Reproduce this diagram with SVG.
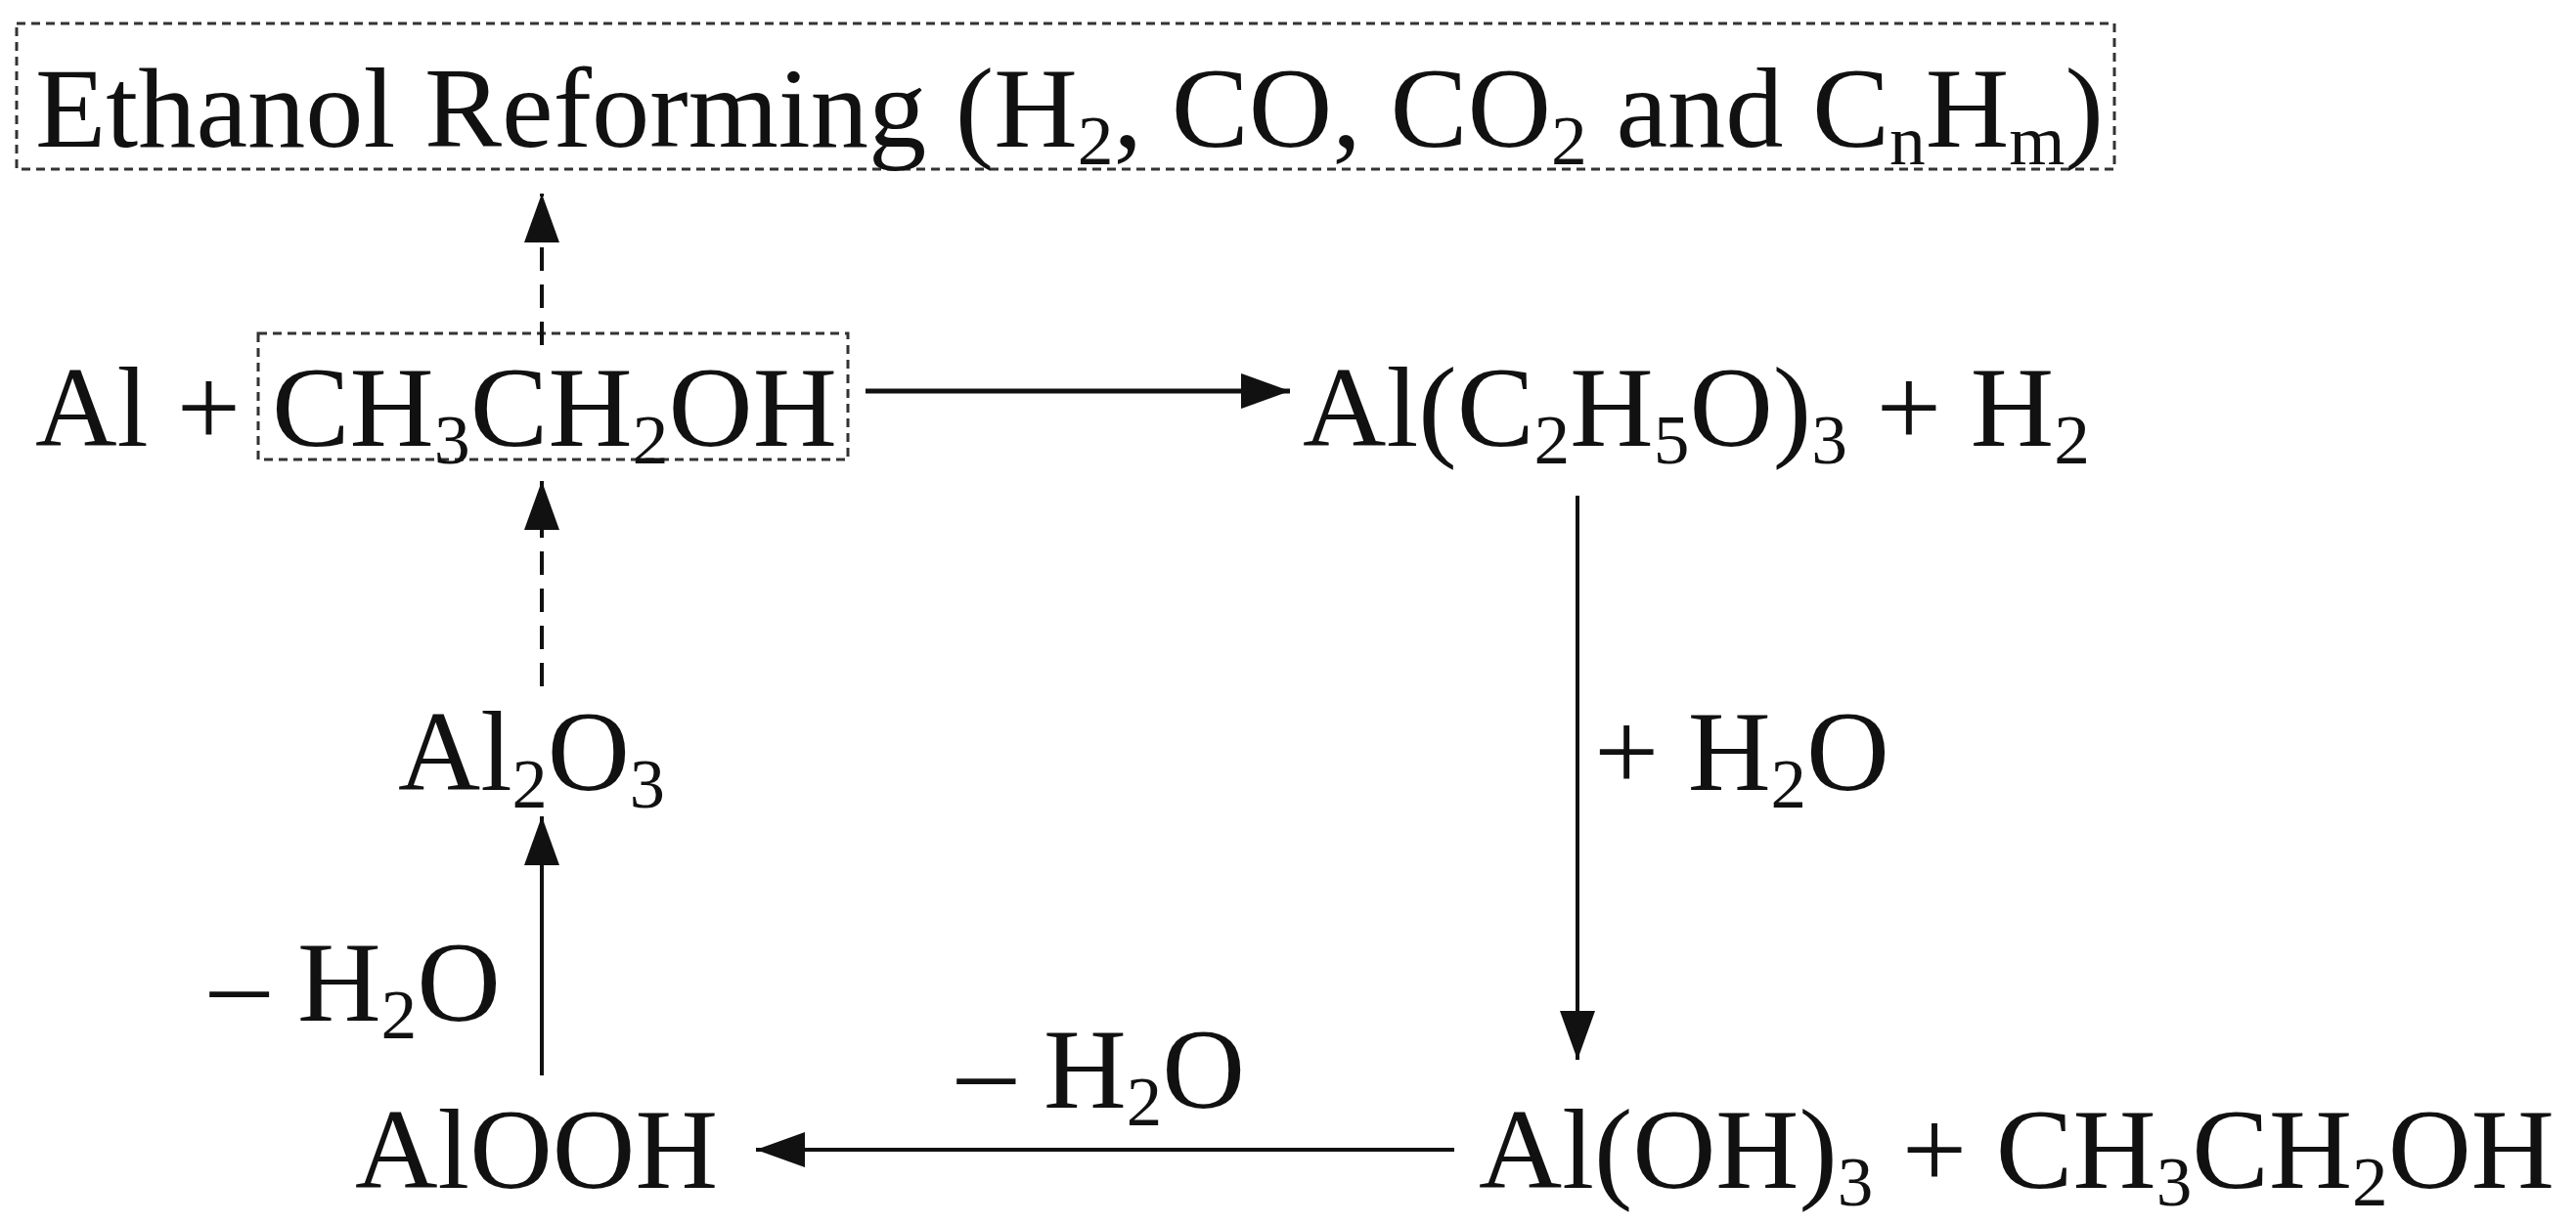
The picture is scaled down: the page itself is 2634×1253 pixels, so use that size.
<svg xmlns="http://www.w3.org/2000/svg" width="2634" height="1253" viewBox="0 0 2634 1253">
<style>
text{font-family:"Liberation Serif","Times New Roman",serif;font-size:116px;fill:#111}
.s{font-size:72px}
.box{fill:none;stroke:#333;stroke-width:3;stroke-dasharray:9 6}
.ln{stroke:#111;stroke-width:4;fill:none}
.d{stroke-dasharray:24 14}
</style>
<defs>
<marker id="a" viewBox="0 0 50 36" refX="50" refY="18" markerWidth="50" markerHeight="36" markerUnits="userSpaceOnUse" orient="auto">
<path d="M0,0 L50,18 L0,36 Z" fill="#111"/>
</marker>
</defs>
<g id="title">
<rect class="box" x="17" y="24" width="2145" height="149"/>
<text x="36" y="150" textLength="2115" lengthAdjust="spacingAndGlyphs">Ethanol Reforming (H<tspan class="s" dy="18">2</tspan><tspan dy="-18">, CO, CO</tspan><tspan class="s" dy="18">2</tspan><tspan dy="-18"> and C</tspan><tspan class="s" dy="18">n</tspan><tspan dy="-18">H</tspan><tspan class="s" dy="18">m</tspan><tspan dy="-18">)</tspan></text>
</g>
<g id="reactants">
<rect class="box" x="264" y="341" width="603" height="129"/>
<text x="36" y="456" textLength="210" lengthAdjust="spacingAndGlyphs">Al +</text>
<text x="278" y="456" textLength="578" lengthAdjust="spacingAndGlyphs">CH<tspan class="s" dy="18">3</tspan><tspan dy="-18">CH</tspan><tspan class="s" dy="18">2</tspan><tspan dy="-18">OH</tspan></text>
</g>
<g id="alkoxide">
<text x="1332" y="456" textLength="805" lengthAdjust="spacingAndGlyphs">Al(C<tspan class="s" dy="18">2</tspan><tspan dy="-18">H</tspan><tspan class="s" dy="18">5</tspan><tspan dy="-18">O)</tspan><tspan class="s" dy="18">3</tspan><tspan dy="-18"> + H</tspan><tspan class="s" dy="18">2</tspan></text>
</g>
<g id="alumina">
<text x="407" y="808" textLength="273" lengthAdjust="spacingAndGlyphs">Al<tspan class="s" dy="18">2</tspan><tspan dy="-18">O</tspan><tspan class="s" dy="18">3</tspan></text>
</g>
<g id="boehmite">
<text x="363" y="1215" textLength="371" lengthAdjust="spacingAndGlyphs">AlOOH</text>
</g>
<g id="hydroxide">
<text x="1512" y="1215" textLength="1100" lengthAdjust="spacingAndGlyphs">Al(OH)<tspan class="s" dy="18">3</tspan><tspan dy="-18"> + CH</tspan><tspan class="s" dy="18">3</tspan><tspan dy="-18">CH</tspan><tspan class="s" dy="18">2</tspan><tspan dy="-18">OH</tspan></text>
</g>
<g id="connectors">
<line class="ln d" x1="554" y1="353" x2="554" y2="198" marker-end="url(#a)"/>
<line class="ln d" x1="554" y1="702" x2="554" y2="492" marker-end="url(#a)"/>
<line class="ln" x1="554" y1="1100" x2="554" y2="835" marker-end="url(#a)"/>
<line class="ln" style="stroke-width:5" x1="885" y1="400" x2="1319" y2="400" marker-end="url(#a)"/>
<line class="ln" x1="1613" y1="507" x2="1613" y2="1084" marker-end="url(#a)"/>
<line class="ln" x1="1487" y1="1176" x2="773" y2="1176" marker-end="url(#a)"/>
<text x="1630" y="808" textLength="302" lengthAdjust="spacingAndGlyphs">+ H<tspan class="s" dy="18">2</tspan><tspan dy="-18">O</tspan></text>
<text x="215" y="1044" textLength="297" lengthAdjust="spacingAndGlyphs">– H<tspan class="s" dy="18">2</tspan><tspan dy="-18">O</tspan></text>
<text x="979" y="1133" textLength="294" lengthAdjust="spacingAndGlyphs">– H<tspan class="s" dy="18">2</tspan><tspan dy="-18">O</tspan></text>
</g>
</svg>
